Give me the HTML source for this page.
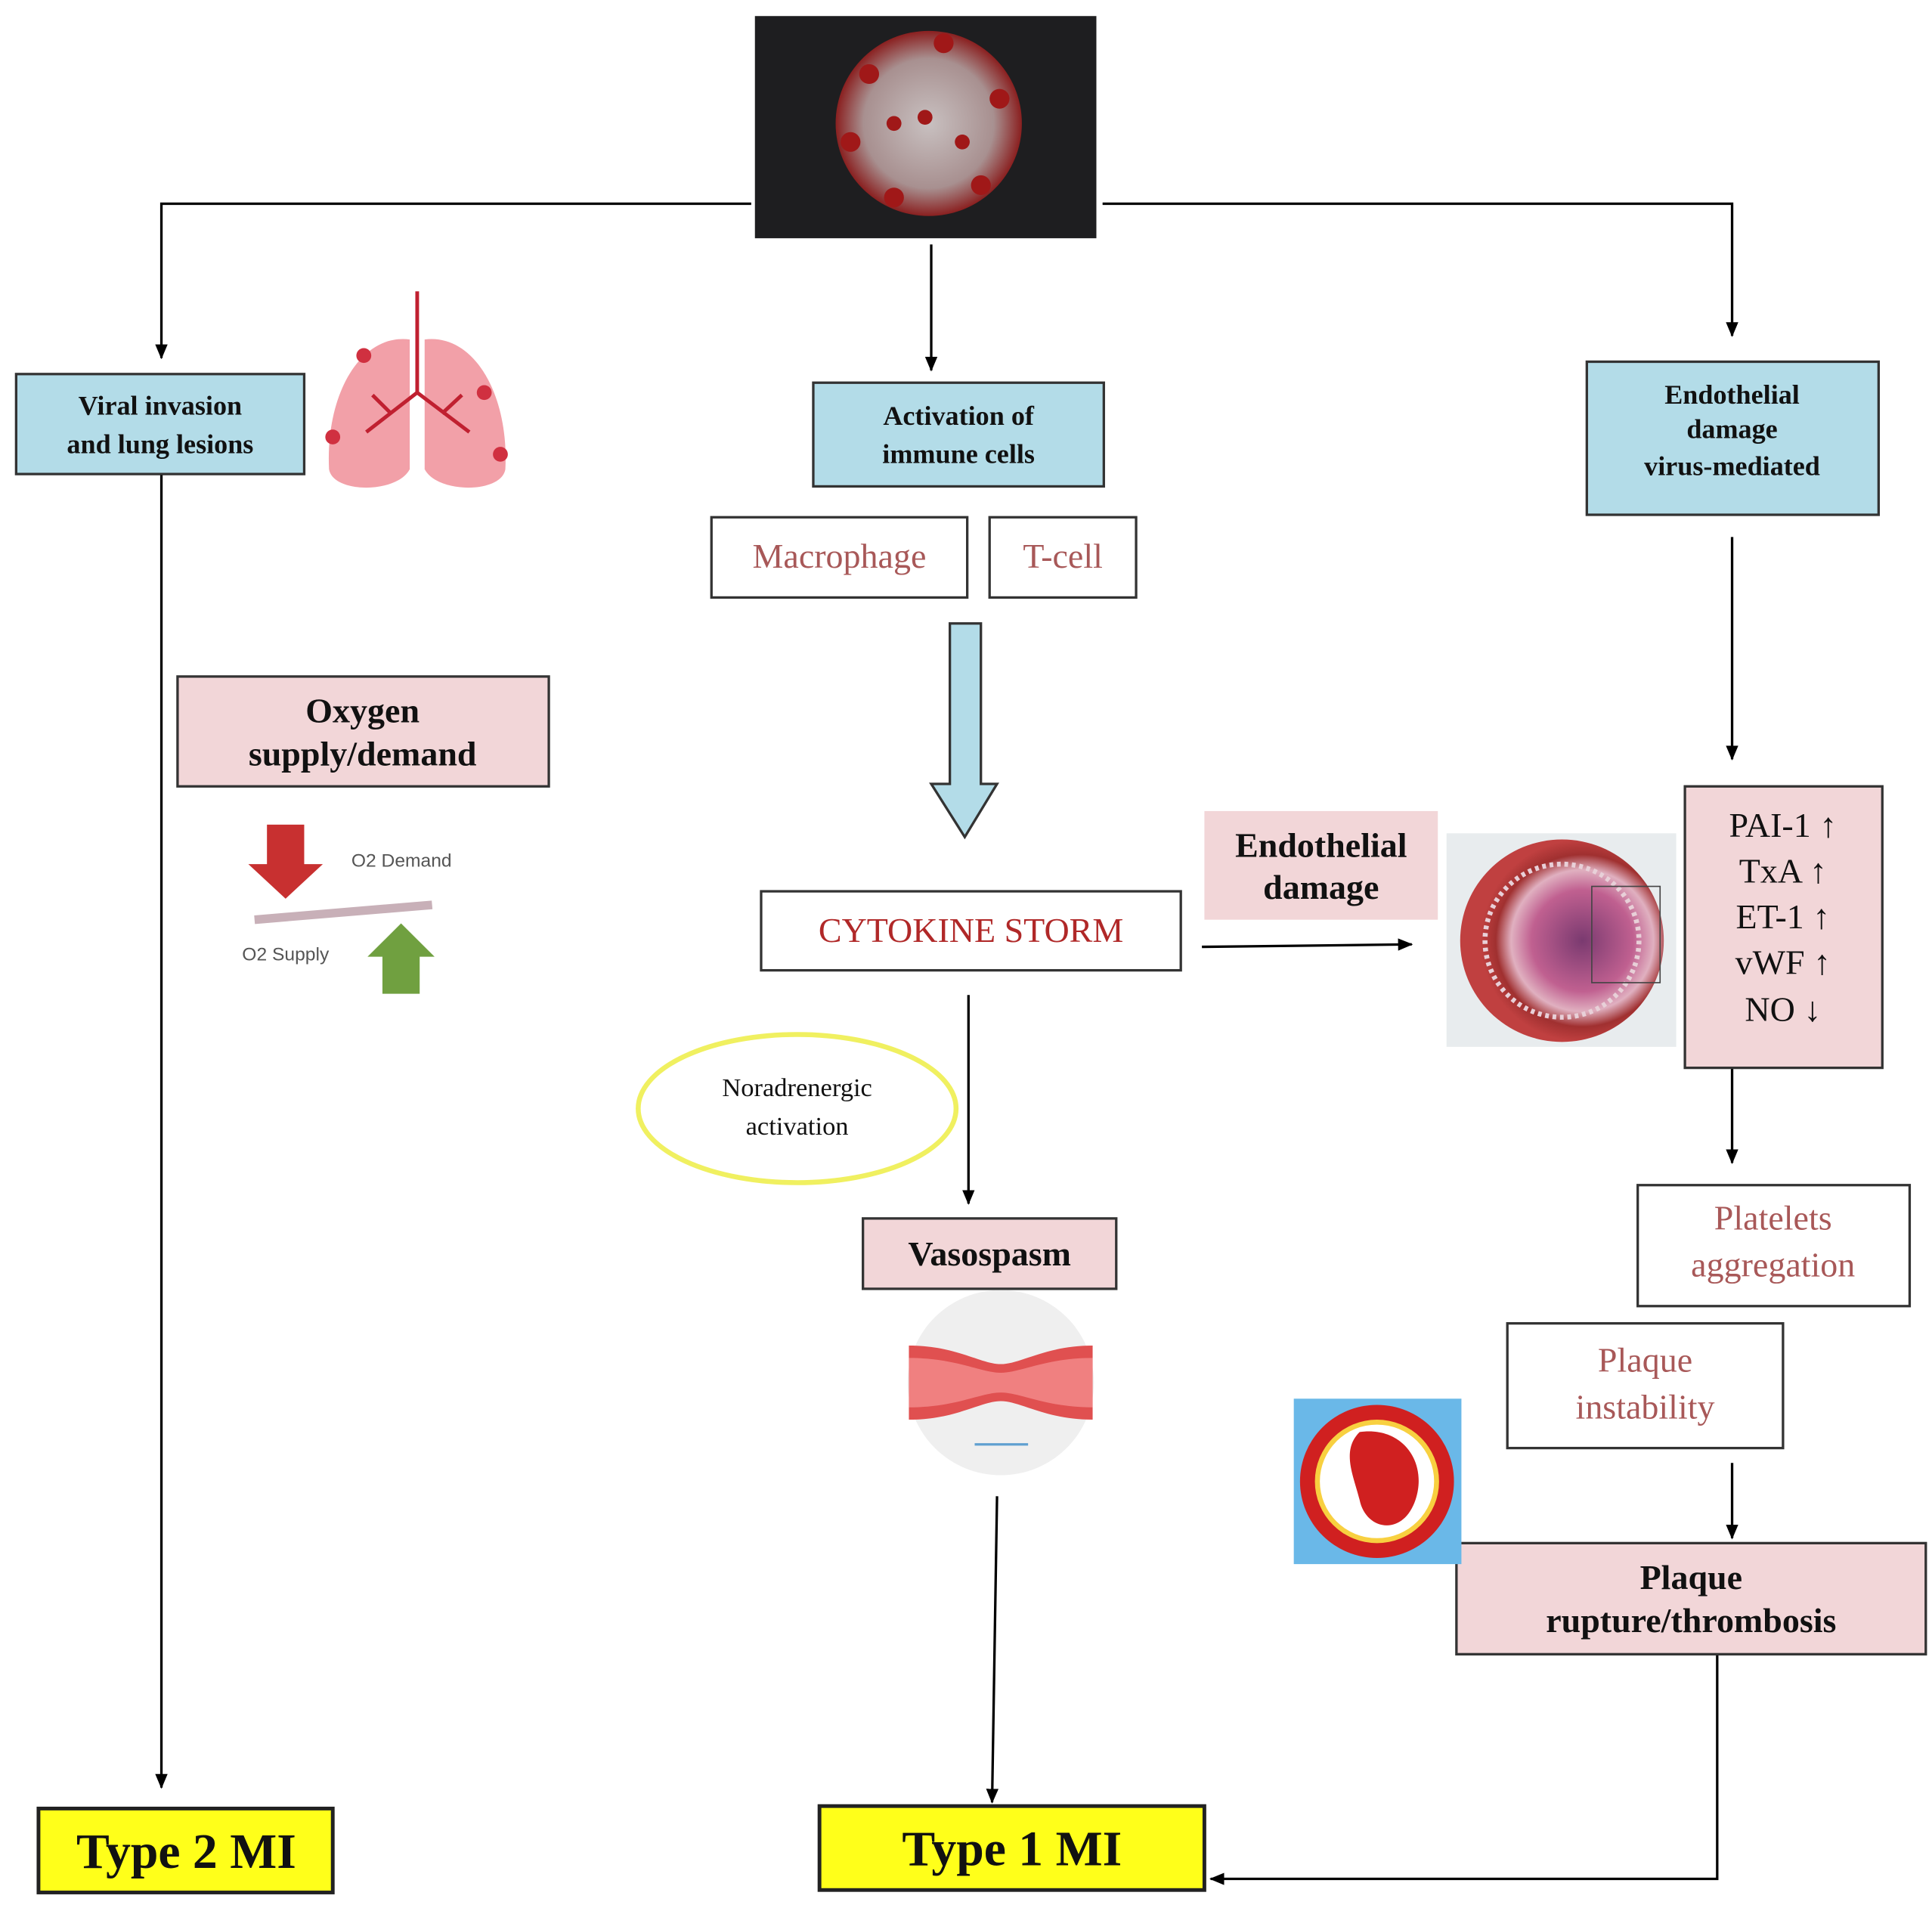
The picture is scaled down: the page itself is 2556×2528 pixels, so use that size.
<!DOCTYPE html>
<html><head><meta charset="utf-8"><style>html,body{margin:0;padding:0;background:#fff}svg{display:block}</style></head>
<body>
<svg width="2556" height="2528" viewBox="0 0 1556 1548" preserveAspectRatio="none" xmlns="http://www.w3.org/2000/svg" font-family="Liberation Serif, serif">
<defs>
<marker id="a" markerWidth="10" markerHeight="10" refX="5" refY="8" orient="auto" markerUnits="userSpaceOnUse" viewBox="0 0 10 10"><path d="M0,0 L10,0 L5,10 z" fill="#000" transform="rotate(0)"/></marker>
<marker id="ar" viewBox="0 0 12 12" refX="11" refY="6" markerWidth="12" markerHeight="12" orient="auto" markerUnits="userSpaceOnUse"><path d="M0,1 L12,6 L0,11 z" fill="#000"/></marker>
<radialGradient id="vir" cx="50%" cy="50%" r="50%"><stop offset="0" stop-color="#c8c0c0"/><stop offset="0.7" stop-color="#a89090"/><stop offset="1" stop-color="#8a2020"/></radialGradient>
<radialGradient id="ves" cx="60%" cy="50%" r="50%"><stop offset="0" stop-color="#7a3a70"/><stop offset="0.5" stop-color="#c06090"/><stop offset="0.7" stop-color="#e0b0c0"/><stop offset="0.85" stop-color="#a03030"/><stop offset="1" stop-color="#c04040"/></radialGradient>
</defs>
<g stroke="#000" stroke-width="2" fill="none">
<polyline points="605,165 130,165 130,290" marker-end="url(#ar)"/>
<polyline points="888,165 1395,165 1395,272" marker-end="url(#ar)"/>
<line x1="750" y1="198" x2="750" y2="300" marker-end="url(#ar)"/>
<line x1="130" y1="384" x2="130" y2="1448" marker-end="url(#ar)"/>
<line x1="1395" y1="435" x2="1395" y2="615" marker-end="url(#ar)"/>
<line x1="968" y1="767" x2="1137" y2="765" marker-end="url(#ar)"/>
<line x1="1395" y1="865" x2="1395" y2="942" marker-end="url(#ar)"/>
<line x1="1395" y1="1185" x2="1395" y2="1246" marker-end="url(#ar)"/>
<polyline points="1383,1340 1383,1522 975,1522" marker-end="url(#ar)"/>
<line x1="780" y1="806" x2="780" y2="975" marker-end="url(#ar)"/>
<line x1="803" y1="1212" x2="799" y2="1460" marker-end="url(#ar)"/>
</g>
<!-- virus -->
<rect x="608" y="13" width="275" height="180" fill="#1e1e20"/>
<circle cx="748" cy="100" r="75" fill="url(#vir)"/>
<g fill="#a01818"><circle cx="700" cy="60" r="8"/><circle cx="760" cy="35" r="8"/><circle cx="805" cy="80" r="8"/><circle cx="790" cy="150" r="8"/><circle cx="720" cy="160" r="8"/><circle cx="685" cy="115" r="8"/><circle cx="745" cy="95" r="6"/><circle cx="775" cy="115" r="6"/><circle cx="720" cy="100" r="6"/></g>
<!-- boxes blue -->
<g fill="#b3dce8" stroke="#333" stroke-width="2">
<rect x="13" y="303" width="232" height="81"/>
<rect x="655" y="310" width="234" height="84"/>
<rect x="1278" y="293" width="235" height="124"/>
</g>
<g font-weight="bold" font-size="22" text-anchor="middle" fill="#111">
<text x="129" y="336">Viral invasion</text><text x="129" y="367">and lung lesions</text>
<text x="772" y="344">Activation of</text><text x="772" y="375">immune cells</text>
<text x="1395" y="327">Endothelial</text><text x="1395" y="355">damage</text><text x="1395" y="385">virus-mediated</text>
</g>
<!-- lungs -->
<g fill="#f2a0a8"><path d="M330,275 C290,270 262,320 265,380 C268,400 320,400 330,380 Z"/><path d="M342,275 C382,270 410,320 407,380 C404,400 352,400 342,380 Z"/></g>
<g stroke="#c02030" stroke-width="3" fill="none"><path d="M336,236 V318 M336,318 L295,350 M336,318 L378,350 M315,335 L300,320 M356,335 L372,320"/></g>
<g fill="#d03040"><circle cx="293" cy="288" r="6"/><circle cx="268" cy="354" r="6"/><circle cx="390" cy="318" r="6"/><circle cx="403" cy="368" r="6"/></g>
<!-- white boxes -->
<g fill="#fff" stroke="#333" stroke-width="2">
<rect x="573" y="419" width="206" height="65"/><rect x="797" y="419" width="118" height="65"/>
<rect x="613" y="722" width="338" height="64"/>
<rect x="1319" y="960" width="219" height="98"/>
<rect x="1214" y="1072" width="222" height="101"/>
</g>
<g font-size="28" text-anchor="middle" fill="#a85858">
<text x="676" y="460">Macrophage</text><text x="856" y="460">T-cell</text>
<text x="1428" y="996">Platelets</text><text x="1428" y="1034">aggregation</text>
<text x="1325" y="1111">Plaque</text><text x="1325" y="1149">instability</text>
</g>
<text x="782" y="763" font-size="28" text-anchor="middle" fill="#b02828">CYTOKINE STORM</text>
<!-- big arrow -->
<path d="M765,505 H790 V635 H803 L777,678 L750,635 H765 Z" fill="#b3dce8" stroke="#333" stroke-width="2"/>
<!-- pink boxes -->
<g fill="#f2d6d8" stroke="#333" stroke-width="2">
<rect x="143" y="548" width="299" height="89"/>
<rect x="1357" y="637" width="159" height="228"/>
<rect x="695" y="987" width="204" height="57"/>
<rect x="1173" y="1250" width="378" height="90"/>
</g>
<rect x="970" y="657" width="188" height="88" fill="#f2d6d8"/>
<g font-weight="bold" font-size="28" text-anchor="middle" fill="#111">
<text x="292" y="585">Oxygen</text><text x="292" y="620">supply/demand</text>
<text x="1064" y="694">Endothelial</text><text x="1064" y="728">damage</text>
<text x="797" y="1025">Vasospasm</text>
<text x="1362" y="1287">Plaque</text><text x="1362" y="1322">rupture/thrombosis</text>
</g>
<g font-size="28" text-anchor="middle" fill="#111">
<text x="1436" y="678">PAI-1 ↑</text><text x="1436" y="715">TxA ↑</text><text x="1436" y="752">ET-1 ↑</text><text x="1436" y="789">vWF ↑</text><text x="1436" y="827">NO ↓</text>
</g>
<!-- O2 -->
<path d="M215,668 H245 V700 H260 L230,728 L200,700 H215 Z" fill="#c83030"/>
<path d="M308,805 H338 V775 H350 L323,748 L296,775 H308 Z" fill="#70a040"/>
<line x1="205" y1="745" x2="348" y2="733" stroke="#c8b0b8" stroke-width="7"/>
<text x="283" y="702" font-family="Liberation Sans, sans-serif" font-size="15" fill="#555">O2 Demand</text>
<text x="195" y="778" font-family="Liberation Sans, sans-serif" font-size="15" fill="#555">O2 Supply</text>
<!-- vessel -->
<rect x="1165" y="675" width="185" height="173" fill="#e8ecee"/>
<circle cx="1258" cy="762" r="82" fill="url(#ves)"/>
<circle cx="1258" cy="762" r="62" fill="none" stroke="#e8d0d8" stroke-width="4" stroke-dasharray="3 3"/>
<rect x="1282" y="718" width="55" height="78" fill="none" stroke="#444" stroke-width="1"/>
<!-- noradrenergic -->
<ellipse cx="642" cy="898" rx="128" ry="60" fill="#fff" stroke="#f0f060" stroke-width="4"/>
<text x="642" y="888" font-size="21" text-anchor="middle" fill="#111">Noradrenergic</text>
<text x="642" y="919" font-size="21" text-anchor="middle" fill="#111">activation</text>
<!-- vasospasm image -->
<circle cx="806" cy="1120" r="75" fill="#efefef"/>
<path d="M732,1090 C770,1090 790,1105 806,1105 C822,1105 842,1090 880,1090 V1150 C842,1150 822,1135 806,1135 C790,1135 770,1150 732,1150 Z" fill="#e05050"/>
<path d="M732,1100 C770,1100 790,1112 806,1112 C822,1112 842,1100 880,1100 V1140 C842,1140 822,1128 806,1128 C790,1128 770,1140 732,1140 Z" fill="#f08080"/>
<line x1="785" y1="1170" x2="828" y2="1170" stroke="#60a0d0" stroke-width="2"/>
<!-- plaque image -->
<rect x="1042" y="1133" width="135" height="134" fill="#6ab8e8"/>
<circle cx="1109" cy="1200" r="62" fill="#d02020"/>
<circle cx="1109" cy="1200" r="50" fill="#f8d040"/>
<circle cx="1109" cy="1200" r="46" fill="#fff"/>
<path d="M1095,1160 C1130,1155 1150,1185 1140,1215 C1130,1245 1100,1240 1095,1215 C1090,1195 1080,1175 1095,1160 Z" fill="#d02020"/>
<!-- type MI -->
<g fill="#ffff1a" stroke="#222" stroke-width="3"><rect x="31" y="1465" width="237" height="68"/><rect x="660" y="1463" width="310" height="68"/></g>
<g font-weight="bold" font-size="40" text-anchor="middle" fill="#111"><text x="150" y="1513">Type 2 MI</text><text x="815" y="1511">Type 1 MI</text></g>
</svg>
</body></html>
